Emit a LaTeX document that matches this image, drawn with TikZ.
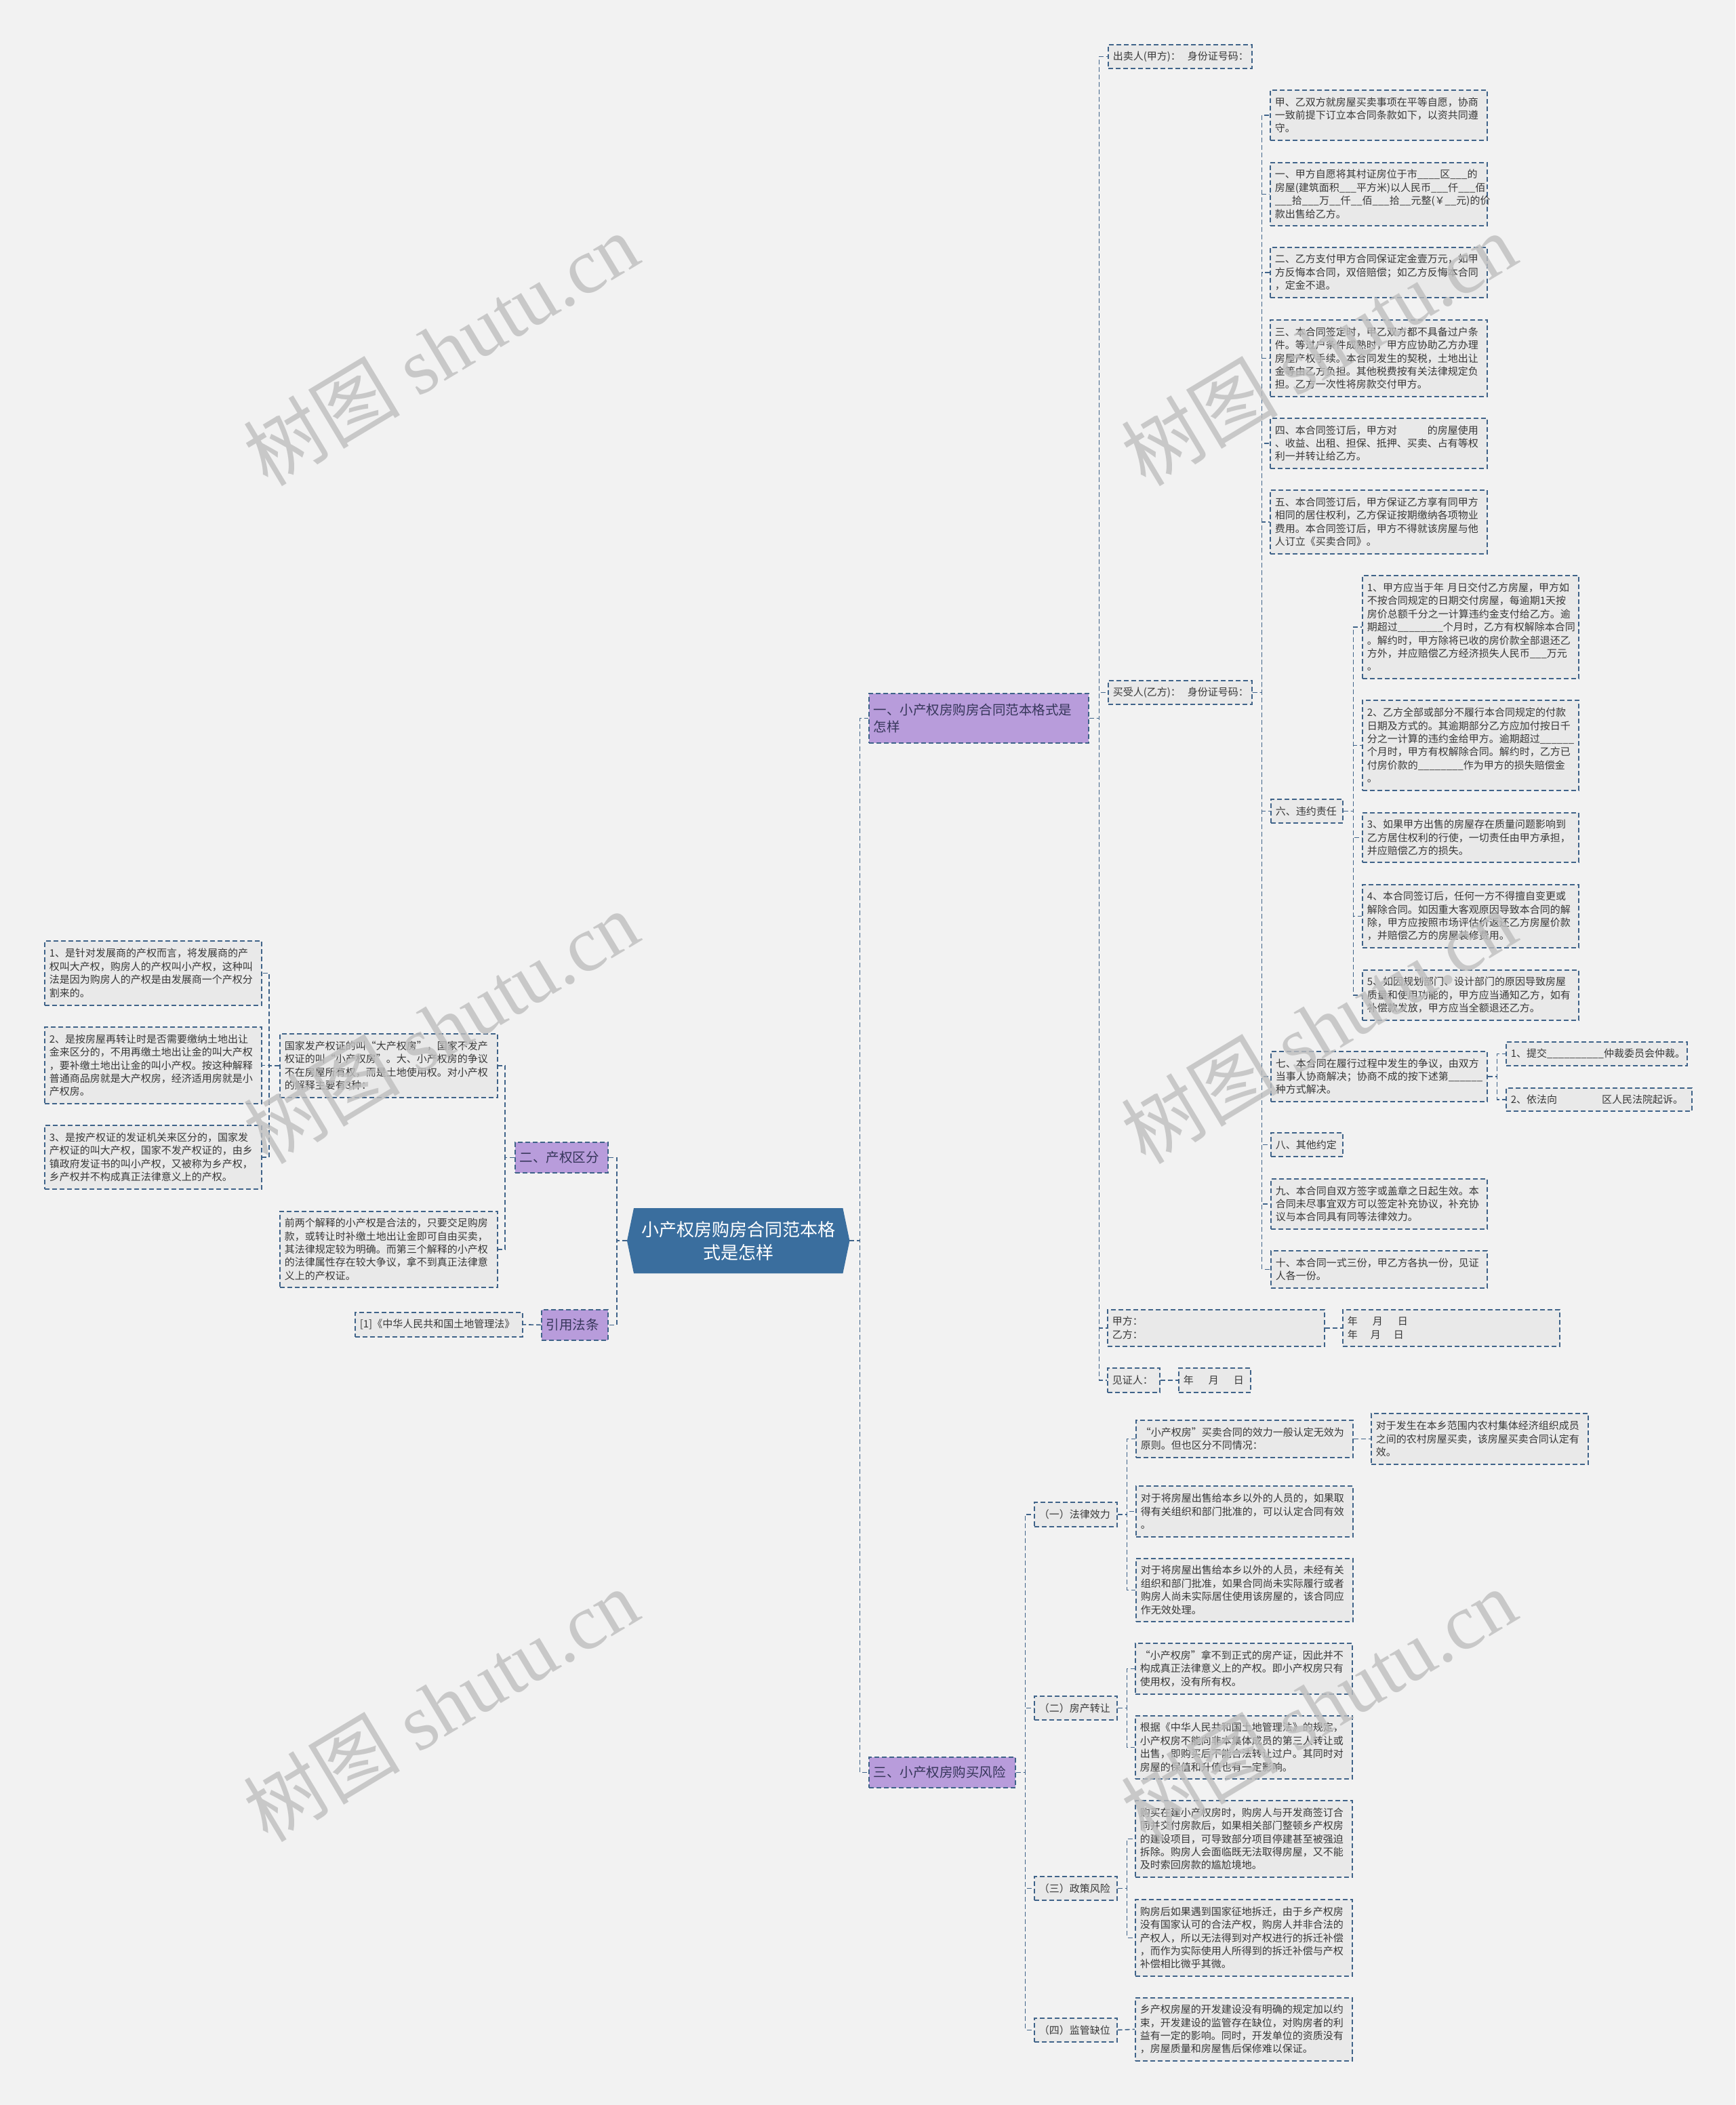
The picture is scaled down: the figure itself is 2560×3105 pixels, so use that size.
\documentclass[tikz,border=0pt]{standalone}
\usepackage{fontspec}
\setmainfont{Noto Sans CJK SC}
\newfontfamily\wmlatin{Liberation Serif}
\usetikzlibrary{backgrounds}
\definecolor{bgc}{HTML}{F2F2F2}
\definecolor{leaffill}{HTML}{E9E9E9}
\definecolor{edgec}{HTML}{3F6389}
\definecolor{purp}{HTML}{B89CDB}
\definecolor{purptext}{HTML}{36365A}
\definecolor{cenc}{HTML}{3A6E9E}
\definecolor{txt}{HTML}{383838}
\definecolor{wmc}{HTML}{BEBEBE}
\tikzset{
  boxbase/.style={draw=edgec, line width=1.6pt, dash pattern=on 7pt off 4pt,
    inner sep=0pt, anchor=north west, align=left},
  leaf/.style={boxbase, fill=leaffill, text=txt, font=\fontsize{15pt}{19.4pt}\selectfont},
  branch/.style={boxbase, fill=purp, text=purptext, font=\fontsize{19.5pt}{25.5pt}\selectfont},
  conn/.style={draw=edgec, line width=1.6pt, dash pattern=on 7pt off 4pt},
  wmark/.style={text=wmc, opacity=0.8, rotate=31, inner sep=0pt, font=\fontsize{116pt}{120pt}\selectfont},
}
\newcommand{\NB}[6]{%
  \pgfmathsetmacro{\twid}{#4-14}%
  \node[#1, minimum width=#4pt, minimum height=#5pt, text width=\twid pt] (#2) at (#3) {#6};}
\begin{document}
\begin{tikzpicture}[x=1pt,y=-1pt]
\begin{scope}[on background layer]
\fill[bgc] (0,0) rectangle (2560,3105);
\end{scope}
\useasboundingbox (0,0) rectangle (2560,3105);

% centre
\node[inner sep=0pt, anchor=north west, minimum width=328pt, minimum height=96pt, align=center, text=white, font=\fontsize{26pt}{34pt}\selectfont] (c) at (925,1782) {小产权房购房合同范本格\\式是怎样};
\begin{scope}[on background layer]
\fill[cenc] (c.west) -- ([xshift=10pt]c.north west) -- ([xshift=-10pt]c.north east) -- (c.east) -- ([xshift=-10pt]c.south east) -- ([xshift=10pt]c.south west) -- cycle;
\end{scope}

% branches
\NB{branch}{b1}{1281,1022}{324}{73}{一、小产权房购房合同范本格式是\\怎样}
\NB{branch}{b3}{1281,2591}{216}{45}{三、小产权房购买风险}
\NB{branch}{b2}{759,1684}{137}{45}{二、产权区分}
\NB{branch}{b4}{798,1931}{98}{45}{引用法条}

% branch 1
\NB{leaf}{s1}{1634,65}{212}{35}{\mbox{出卖人(甲方)：~~身份证号码：}}
\NB{leaf}{s2}{1634,1003}{212}{35}{\mbox{买受人(乙方)：~~身份证号码：}}
\NB{leaf}{s3}{1633,1931}{320}{54}{甲方：\\乙方：}
\NB{leaf}{s3d}{1980,1931}{320}{54}{\mbox{年\hspace{22pt}月\hspace{22pt}日}\\\mbox{年\hspace{19pt}月\hspace{19pt}日}}
\NB{leaf}{s4}{1633,2017}{77}{36}{见证人：}
\NB{leaf}{s4d}{1738,2017}{106}{36}{\mbox{年\hspace{22pt}月\hspace{22pt}日}}

\NB{leaf}{a1}{1873,132}{320}{74}{甲、乙双方就房屋买卖事项在平等自愿，协商\\一致前提下订立本合同条款如下，以资共同遵\\守。}
\NB{leaf}{a2}{1873,239}{320}{93}{一、甲方自愿将其村证房位于市\_\_\_\_区\_\_\_的\\房屋(建筑面积\_\_\_平方米)以人民币\_\_\_仟\_\_\_佰\\\_\_\_拾\_\_\_万\_\_仟\_\_佰\_\_\_拾\_\_元整(￥\_\_元)的价\\款出售给乙方。}
\NB{leaf}{a3}{1873,364}{320}{74}{二、乙方支付甲方合同保证定金壹万元，如甲\\方反悔本合同，双倍赔偿；如乙方反悔本合同\\，定金不退。}
\NB{leaf}{a4}{1873,471}{320}{113}{三、本合同签定时，甲乙双方都不具备过户条\\件。等过户条件成熟时，甲方应协助乙方办理\\房屋产权手续。本合同发生的契税，土地出让\\金等由乙方负担。其他税费按有关法律规定负\\担。乙方一次性将房款交付甲方。}
\NB{leaf}{a5}{1873,616}{320}{74}{\mbox{四、本合同签订后，甲方对\hspace{45pt}的房屋使用}\\、收益、出租、担保、抵押、买卖、占有等权\\利一并转让给乙方。}
\NB{leaf}{a6}{1873,722}{320}{94}{五、本合同签订后，甲方保证乙方享有同甲方\\相同的居住权利，乙方保证按期缴纳各项物业\\费用。本合同签订后，甲方不得就该房屋与他\\人订立《买卖合同》。}
\NB{leaf}{a7}{1874,1178}{106}{35}{六、违约责任}
\NB{leaf}{a8}{1874,1550}{319}{74}{七、本合同在履行过程中发生的争议，由双方\\当事人协商解决；协商不成的按下述第\_\_\_\_\_\_\\种方式解决。}
\NB{leaf}{a9}{1874,1670}{106}{35}{八、其他约定}
\NB{leaf}{a10}{1874,1738}{319}{74}{九、本合同自双方签字或盖章之日起生效。本\\合同未尽事宜双方可以签定补充协议，补充协\\议与本合同具有同等法律效力。}
\NB{leaf}{a11}{1874,1844}{319}{55}{十、本合同一式三份，甲乙方各执一份，见证\\人各一份。}

\NB{leaf}{v1}{2009,848}{319}{152}{\mbox{1、甲方应当于年~月日交付乙方房屋，甲方如}\\不按合同规定的日期交付房屋，每逾期1天按\\房价总额千分之一计算违约金支付给乙方。逾\\期超过\_\_\_\_\_\_\_\_个月时，乙方有权解除本合同\\。解约时，甲方除将已收的房价款全部退还乙\\方外，并应赔偿乙方经济损失人民币\_\_\_万元\\。}
\NB{leaf}{v2}{2009,1032}{319}{133}{2、乙方全部或部分不履行本合同规定的付款\\日期及方式的。其逾期部分乙方应加付按日千\\分之一计算的违约金给甲方。逾期超过\_\_\_\_\_\_\\个月时，甲方有权解除合同。解约时，乙方已\\付房价款的\_\_\_\_\_\_\_\_作为甲方的损失赔偿金\\。}
\NB{leaf}{v3}{2009,1198}{319}{73}{3、如果甲方出售的房屋存在质量问题影响到\\乙方居住权利的行使，一切责任由甲方承担，\\并应赔偿乙方的损失。}
\NB{leaf}{v4}{2009,1304}{319}{93}{4、本合同签订后，任何一方不得擅自变更或\\解除合同。如因重大客观原因导致本合同的解\\除，甲方应按照市场评估价返还乙方房屋价款\\，并赔偿乙方的房屋装修费用。}
\NB{leaf}{v5}{2009,1430}{319}{74}{5、如因规划部门、设计部门的原因导致房屋\\质量和使用功能的，甲方应当通知乙方，如有\\补偿款发放，甲方应当全额退还乙方。}
\NB{leaf}{w1}{2221,1536}{267}{35}{1、提交\_\_\_\_\_\_\_\_\_\_仲裁委员会仲裁。}
\NB{leaf}{w2}{2221,1604}{274}{34}{\mbox{2、依法向\hspace{66pt}区人民法院起诉。}}

% branch 3
\NB{leaf}{r1}{1525,2215}{122}{36}{（一）法律效力}
\NB{leaf}{r2}{1525,2501}{122}{35}{（二）房产转让}
\NB{leaf}{r3}{1525,2767}{122}{35}{（三）政策风险}
\NB{leaf}{r4}{1525,2976}{122}{35}{（四）监管缺位}
\NB{leaf}{r1a}{1675,2094}{320}{55}{“小产权房”买卖合同的效力一般认定无效为\\原则。但也区分不同情况：}
\NB{leaf}{r1aa}{2022,2084}{320}{75}{对于发生在本乡范围内农村集体经济组织成员\\之间的农村房屋买卖，该房屋买卖合同认定有\\效。}
\NB{leaf}{r1b}{1675,2191}{320}{75}{对于将房屋出售给本乡以外的人员的，如果取\\得有关组织和部门批准的，可以认定合同有效\\。}
\NB{leaf}{r1c}{1675,2298}{320}{93}{对于将房屋出售给本乡以外的人员，未经有关\\组织和部门批准，如果合同尚未实际履行或者\\购房人尚未实际居住使用该房屋的，该合同应\\作无效处理。}
\NB{leaf}{r2a}{1674,2423}{320}{75}{“小产权房”拿不到正式的房产证，因此并不\\构成真正法律意义上的产权。即小产权房只有\\使用权，没有所有权。}
\NB{leaf}{r2b}{1674,2530}{320}{93}{根据《中华人民共和国土地管理法》的规定，\\小产权房不能向非本集体成员的第三人转让或\\出售，即购买后不能合法转让过户。其同时对\\房屋的保值和升值也有一定影响。}
\NB{leaf}{r3a}{1674,2655}{320}{113}{购买在建小产权房时，购房人与开发商签订合\\同并交付房款后，如果相关部门整顿乡产权房\\的建设项目，可导致部分项目停建甚至被强迫\\拆除。购房人会面临既无法取得房屋，又不能\\及时索回房款的尴尬境地。}
\NB{leaf}{r3b}{1674,2801}{320}{113}{购房后如果遇到国家征地拆迁，由于乡产权房\\没有国家认可的合法产权，购房人并非合法的\\产权人，所以无法得到对产权进行的拆迁补偿\\，而作为实际使用人所得到的拆迁补偿与产权\\补偿相比微乎其微。}
\NB{leaf}{r4a}{1674,2946}{320}{93}{乡产权房屋的开发建设没有明确的规定加以约\\束，开发建设的监管存在缺位，对购房者的利\\益有一定的影响。同时，开发单位的资质没有\\，房屋质量和房屋售后保修难以保证。}

% left side
\NB{leaf}{l1}{412,1524}{321}{94}{国家发产权证的叫“大产权房”，国家不发产\\权证的叫“小产权房”。大、小产权房的争议\\不在房屋所有权，而是土地使用权。对小产权\\的解释主要有3种：}
\NB{leaf}{l2}{412,1786}{321}{112}{前两个解释的小产权是合法的，只要交足购房\\款，或转让时补缴土地出让金即可自由买卖，\\其法律规定较为明确。而第三个解释的小产权\\的法律属性存在较大争议，拿不到真正法律意\\义上的产权证。}
\NB{leaf}{l1a}{65,1387}{320}{95}{1、是针对发展商的产权而言，将发展商的产\\权叫大产权，购房人的产权叫小产权，这种叫\\法是因为购房人的产权是由发展商一个产权分\\割来的。}
\NB{leaf}{l1b}{65,1514}{320}{113}{2、是按房屋再转让时是否需要缴纳土地出让\\金来区分的，不用再缴土地出让金的叫大产权\\，要补缴土地出让金的叫小产权。按这种解释\\普通商品房就是大产权房，经济适用房就是小\\产权房。}
\NB{leaf}{l1c}{65,1659}{320}{94}{3、是按产权证的发证机关来区分的，国家发\\产权证的叫大产权，国家不发产权证的，由乡\\镇政府发证书的叫小产权，又被称为乡产权，\\乡产权并不构成真正法律意义上的产权。}
\NB{leaf}{l3}{523,1935}{247}{36}{[1]《中华人民共和国土地管理法》}

% connectors
\foreach \ch in {b1,b3} \draw[conn] (c.east) -- ++(15,0) |- (\ch.west);
\foreach \ch in {b2,b4} \draw[conn] (c.west) -- ++(-15,0) |- (\ch.east);
\foreach \ch in {s1,s2,s3,s4} \draw[conn] (b1.east) -- ++(15,0) |- (\ch.west);
\draw[conn] (s3.east) -- (s3d.west);
\draw[conn] (s4.east) -- (s4d.west);
\foreach \ch in {a1,a2,a3,a4,a5,a6,a7,a8,a9,a10,a11} \draw[conn] (s2.east) -- ++(14,0) |- (\ch.west);
\foreach \ch in {v1,v2,v3,v4,v5} \draw[conn] (a7.east) -- ++(15,0) |- (\ch.west);
\foreach \ch in {w1,w2} \draw[conn] (a8.east) -- ++(14,0) |- (\ch.west);
\foreach \ch in {r1,r2,r3,r4} \draw[conn] (b3.east) -- ++(14,0) |- (\ch.west);
\foreach \ch in {r1a,r1b,r1c} \draw[conn] (r1.east) -- ++(14,0) |- (\ch.west);
\draw[conn] (r1a.east) -- (r1aa.west);
\foreach \ch in {r2a,r2b} \draw[conn] (r2.east) -- ++(14,0) |- (\ch.west);
\foreach \ch in {r3a,r3b} \draw[conn] (r3.east) -- ++(14,0) |- (\ch.west);
\draw[conn] (r4.east) -- (r4a.west);
\foreach \ch in {l1,l2} \draw[conn] (b2.west) -- ++(-14,0) |- (\ch.east);
\foreach \ch in {l1a,l1b,l1c} \draw[conn] (l1.west) -- ++(-15,0) |- (\ch.east);
\draw[conn] (b4.west) -- (l3.east);

% watermarks
\foreach \p [count=\i] in {{650,515},{1945,515},{650,1515},{1945,1515},{650,2515},{1945,2515}}
  \node[wmark] (wm\i) at (\p) {树图 {\wmlatin shutu.cn}};
\end{tikzpicture}
\end{document}
